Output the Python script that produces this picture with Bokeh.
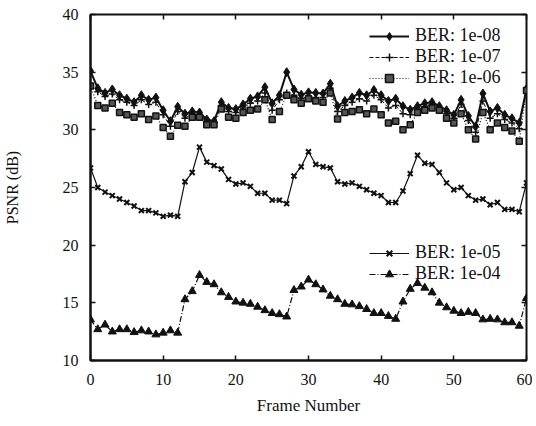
from bokeh.plotting import figure
from bokeh.models import LinearAxis, Legend, LegendItem, Range1d, FixedTicker
from bokeh.embed import file_html
from bokeh.resources import INLINE

frames = list(range(61))

ber_1e08 = [35.1, 33.6, 33.2, 33.5, 33.0, 32.7, 32.4, 33.0, 32.6, 32.8,
            31.7, 30.75, 32.0, 31.4, 31.6, 31.5, 30.9, 30.75, 32.4, 31.9,
            31.8, 32.2, 32.7, 32.9, 33.7, 32.3, 33.0, 35.0, 33.5, 33.05,
            33.25, 33.2, 33.15, 34.0, 32.05, 32.5, 32.8, 33.2, 33.0, 33.45,
            33.0, 32.5, 32.7, 32.05, 31.75, 32.05, 32.3, 32.4, 32.05, 31.7,
            31.3, 32.6, 31.2, 30.3, 33.15, 31.6, 31.9, 31.3, 31.0, 30.6,
            33.55]

ber_1e07 = [33.8, 33.3, 32.9, 33.1, 32.6, 32.4, 32.1, 32.6, 32.2, 32.4,
            31.3, 30.3, 31.6, 31.0, 31.4, 31.3, 30.7, 30.6, 32.1, 31.6,
            31.5, 31.9, 32.3, 32.5, 33.2, 31.7, 32.6, 33.2, 33.0, 32.7,
            32.9, 32.8, 32.8, 33.6, 31.6, 32.1, 32.4, 32.7, 32.5, 33.0,
            32.6, 31.9, 32.1, 31.4, 31.3, 31.8, 32.0, 32.2, 31.8, 31.4,
            31.0, 32.2, 30.8, 29.8, 32.5, 31.0, 31.4, 30.9, 30.6, 30.1,
            33.5]

ber_1e06 = [33.8, 32.1, 31.9, 32.3, 31.5, 31.3, 31.1, 31.4, 30.9, 31.2,
            30.2, 29.45, 30.4, 30.3, 31.1, 31.1, 30.45, 30.45, 31.8, 31.1,
            31.0, 31.5, 31.7, 31.8, 32.6, 30.9, 31.6, 33.0, 32.6, 32.3,
            32.7, 32.5, 32.4, 33.2, 30.95, 31.5, 31.6, 31.75, 31.4, 31.8,
            31.3, 30.6, 30.75, 30.0, 30.45, 31.5, 31.7, 31.9, 31.7, 31.0,
            30.6, 31.4, 30.0, 29.2, 31.5, 30.0, 30.6, 30.2, 29.9, 29.0,
            33.4]

ber_1e05 = [26.7, 25.0, 24.6, 24.3, 24.0, 23.7, 23.4, 23.0, 23.0, 22.8,
            22.5, 22.6, 22.5, 25.5, 26.3, 28.5, 27.2, 26.9, 26.6, 25.7,
            25.3, 25.4, 25.1, 24.5, 24.5, 23.9, 23.9, 23.6, 26.0, 26.8,
            28.1, 27.0, 26.8, 26.7, 25.5, 25.3, 25.4, 25.1, 24.8, 24.5,
            24.3, 23.7, 23.7, 24.7, 26.2, 27.8, 27.1, 27.0, 26.3, 25.4,
            24.8, 25.0, 24.3, 23.9, 24.0, 23.5, 23.7, 23.1, 23.1, 22.9,
            25.4]

ber_1e04 = [13.55, 12.7, 13.1, 12.5, 12.7, 12.7, 12.45, 12.6, 12.5, 12.25,
            12.4, 12.6, 12.4, 15.3, 16.0, 17.4, 16.8, 16.6, 15.9, 15.5,
            15.1, 15.0, 14.9, 14.65, 14.35, 14.1, 14.0, 13.8, 16.1, 16.4,
            17.0, 16.6, 16.15, 15.6, 15.3, 14.9, 14.85, 14.7, 14.45, 14.1,
            14.1, 13.85, 13.6, 15.1, 16.2, 16.7, 16.3, 15.9, 15.0, 14.6,
            14.3, 14.1, 14.2, 14.1, 13.55, 13.6, 13.55, 13.3, 13.3, 13.0,
            15.4]

labels_top = ["BER: 1e-08", "BER: 1e-07", "BER: 1e-06"]
labels_bottom = ["BER: 1e-05", "BER: 1e-04"]
x_ticks = [0, 10, 20, 30, 40, 50, 60]
y_ticks = [10, 15, 20, 25, 30, 35, 40]

FONT = "Liberation Serif"
INK = "#111111"

p = figure(frame_width=436, frame_height=346,
           min_border_left=87, min_border_right=6,
           min_border_top=14, min_border_bottom=48,
           x_range=Range1d(0, 60), y_range=Range1d(10, 40),
           output_backend="svg", toolbar_location=None,
           background_fill_color="white", border_fill_color="white")

p.xgrid.visible = False
p.ygrid.visible = False
p.outline_line_color = INK
p.outline_line_width = 2

for ax in (p.xaxis[0], p.yaxis[0]):
    ax.major_tick_in = 5
    ax.major_tick_out = 0
    ax.minor_tick_line_color = None
    ax.axis_line_color = INK
    ax.axis_line_width = 2
    ax.major_tick_line_color = INK
    ax.major_tick_line_width = 1.5
    ax.major_label_text_font = FONT
    ax.major_label_text_font_size = "16px"
    ax.major_label_text_color = INK
    ax.axis_label_text_font = FONT
    ax.axis_label_text_font_style = "normal"
    ax.axis_label_text_color = INK

p.xaxis.axis_label_text_font_size = "17px"
p.yaxis.axis_label_text_font_size = "16px"
p.xaxis.ticker = FixedTicker(ticks=x_ticks)
p.yaxis.ticker = FixedTicker(ticks=y_ticks)
p.xaxis.axis_label = "Frame Number"
p.yaxis.axis_label = "PSNR (dB)"
p.xaxis.major_label_standoff = 13
p.xaxis.axis_label_standoff = 8
p.yaxis.major_label_standoff = 12
p.yaxis.axis_label_standoff = 39

# mirrored inward ticks on the top and right edges (no labels)
top_ax = LinearAxis(ticker=FixedTicker(ticks=x_ticks),
                    major_label_overrides={t: "" for t in x_ticks},
                    major_tick_in=5, major_tick_out=0, minor_tick_line_color=None,
                    axis_line_color=None, major_tick_line_color=INK, major_tick_line_width=1.5,
                    major_label_standoff=0)
right_ax = LinearAxis(ticker=FixedTicker(ticks=y_ticks),
                      major_label_overrides={t: "" for t in y_ticks},
                      major_tick_in=5, major_tick_out=0, minor_tick_line_color=None,
                      axis_line_color=None, major_tick_line_color=INK, major_tick_line_width=1.5,
                      major_label_standoff=0)
p.add_layout(top_ax, "above")
p.add_layout(right_ax, "right")

# series
l8 = p.line(frames, ber_1e08, line_color=INK, line_width=2)
m8 = p.scatter(frames, ber_1e08, marker="diamond", size=9, fill_color=INK, line_color=INK)

l7 = p.line(frames, ber_1e07, line_color=INK, line_width=1, line_dash="4 2")
m7 = p.scatter(frames, ber_1e07, marker="cross", size=7, line_color=INK, line_width=1.5)

l6 = p.line(frames, ber_1e06, line_color=INK, line_width=1.2, line_dash="1 2")
m6 = p.scatter(frames, ber_1e06, marker="square", size=6, fill_color="#555555",
               line_color=INK, line_width=1.5)

l5 = p.line(frames, ber_1e05, line_color=INK, line_width=1.2)
m5 = p.scatter(frames, ber_1e05, marker="x", size=7, line_color=INK, line_width=2)

l4 = p.line(frames, ber_1e04, line_color=INK, line_width=1.2, line_dash="6 2 1 2")
m4 = p.scatter(frames, ber_1e04, marker="triangle", size=8, fill_color=INK, line_color=INK)

leg_top = Legend(items=[
    LegendItem(label=labels_top[0], renderers=[l8, m8]),
    LegendItem(label=labels_top[1], renderers=[l7, m7]),
    LegendItem(label=labels_top[2], renderers=[l6, m6]),
], location=(279, 272))
leg_bot = Legend(items=[
    LegendItem(label=labels_bottom[0], renderers=[l5, m5]),
    LegendItem(label=labels_bottom[1], renderers=[l4, m4]),
], location=(279, 76))

for lg in (leg_top, leg_bot):
    lg.background_fill_alpha = 0
    lg.border_line_alpha = 0
    lg.padding = 0
    lg.margin = 0
    lg.spacing = 0
    lg.glyph_width = 40
    lg.glyph_height = 20
    lg.label_height = 20
    lg.label_standoff = 6
    lg.label_text_font = FONT
    lg.label_text_font_size = "18px"
    lg.label_text_color = INK
    p.add_layout(lg, "center")

html = file_html(p, INLINE)
open("out.html", "w").write(html)
